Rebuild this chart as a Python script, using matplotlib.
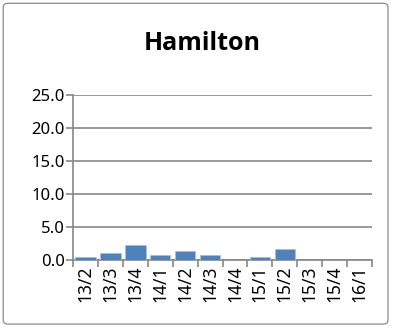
import matplotlib.pyplot as plt
from matplotlib.patches import FancyBboxPatch

quarters = ['13/2', '13/3', '13/4', '14/1', '14/2', '14/3', '14/4',
            '15/1', '15/2', '15/3', '15/4', '16/1']
values = [0.4, 1.0, 2.2, 0.7, 1.3, 0.7, 0.0, 0.4, 1.6, 0.0, 0.0, 0.0]
yticks = [0, 5, 10, 15, 20, 25]

plt.rcParams['font.family'] = ['Noto Sans', 'DejaVu Sans']
grid = '#878787'

fig = plt.figure(figsize=(4, 3.29), dpi=100)
fig.patches.append(FancyBboxPatch((0.008, 0.015), 0.962, 0.975,
                                  boxstyle='round,pad=0,rounding_size=0.012',
                                  transform=fig.transFigure, fill=False,
                                  edgecolor='#8c8c8c', linewidth=0.9))
ax = fig.add_axes([0.1825, 0.2097, 0.7475, 0.5013])

x = range(len(quarters))
ax.bar(x, values, width=0.82, color='#4F81BD', edgecolor='#A7BFDE',
       linewidth=0.6, zorder=3)

ax.set_xlim(-0.5, len(quarters) - 0.5)
ax.set_ylim(0, 25)
ax.set_yticks(yticks)
ax.set_yticklabels(['%.1f' % v for v in yticks], fontsize=12)
ax.set_xticks(x)
ax.set_xticklabels(quarters, rotation=90, fontsize=12.5)
ax.tick_params(axis='x', length=0, pad=4)
ax.tick_params(axis='y', length=5, color=grid, width=1.2, pad=1)

# category boundary ticks on x axis
ax.set_xticks([i - 0.5 for i in range(len(quarters) + 1)], minor=True)
ax.tick_params(axis='x', which='minor', length=5, color=grid, width=1.2)

ax.grid(axis='y', color=grid, linewidth=1.2, zorder=0)
for side in ['top', 'right']:
    ax.spines[side].set_visible(False)
ax.spines['left'].set_color(grid)
ax.spines['left'].set_linewidth(1.2)
ax.spines['bottom'].set_color(grid)
ax.spines['bottom'].set_linewidth(1.2)

fig.text(0.505, 0.848, 'Hamilton', ha='center', va='baseline',
         fontsize=18, fontweight='bold', family=['Open Sans', 'DejaVu Sans'])

fig.savefig('out.png', dpi=100)
